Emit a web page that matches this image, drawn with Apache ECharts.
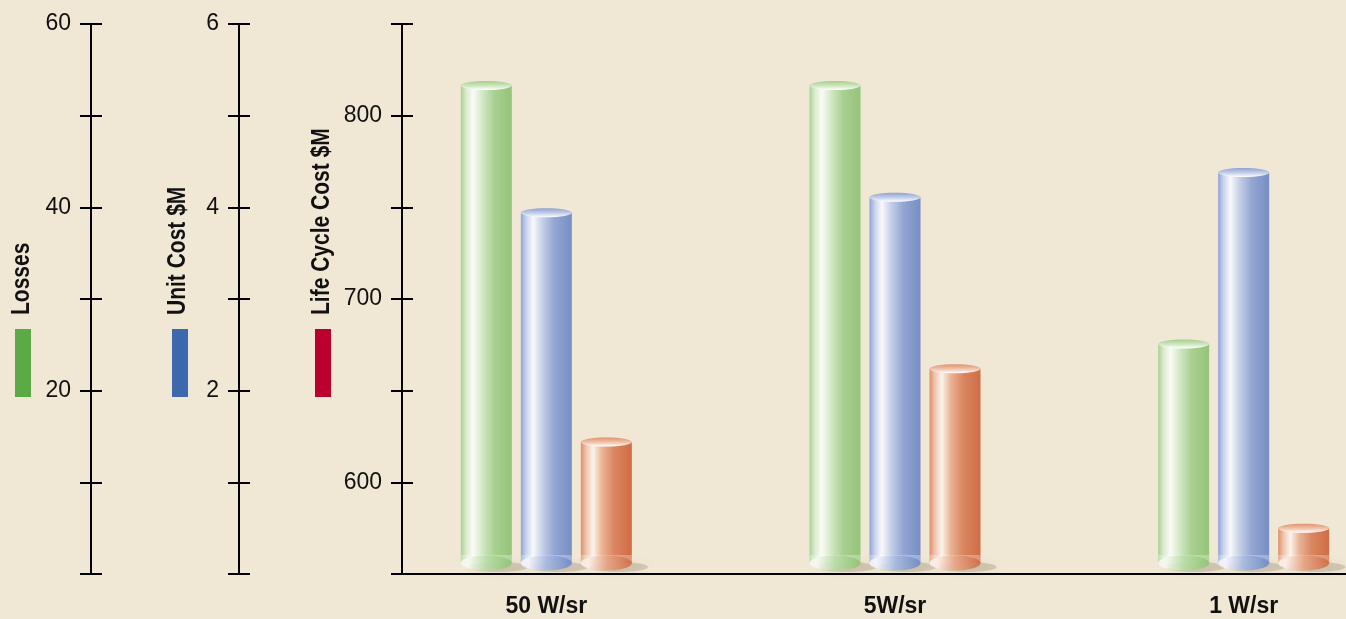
<!DOCTYPE html>
<html>
<head>
<meta charset="utf-8">
<script src="https://cdn.jsdelivr.net/npm/echarts@6/dist/echarts.min.js"></script>
<style>
  html, body { margin: 0; padding: 0; background: #f0e7d4; }
  #chart { width: 1346px; height: 619px; }
</style>
</head>
<body>
<div id="chart"></div>
<script>
// Sources compared
const categories = ['50 W/sr', '5W/sr', '1 W/sr'];

// Values per source, each on its own scale
const losses = [53.3, 53.3, 25.1];
const unitCost = [3.94, 4.11, 4.38];
const lifeCycleCost = [622, 662, 575];

// Which tick values get a printed label
const lossesLabels = [20, 40, 60];
const unitCostLabels = [2, 4, 6];
const lifeCycleLabels = [600, 700, 800];

const FONT = "'Liberation Sans', Arial, sans-serif";

// Cylinder shading per series
const palettes = [
  { // green – Losses
    body: ['#a9d193', '#d8ebcd', '#fbfbf5', '#d3e8c6', '#a8d08f', '#95c47a'],
    cap: ['#a3cf8a', '#d4e9c8', '#ffffff'],
    base: ['#f4f9ef', '#b8dca5', '#8fc375'],
    key: '#5aaa46'
  },
  { // blue – Unit Cost
    body: ['#8ea4d6', '#c6d2ec', '#f9f9fb', '#c5cfe7', '#93a6d2', '#768ec4'],
    cap: ['#8ea3d2', '#cbd5ec', '#ffffff'],
    base: ['#f2f4fb', '#a6b8e0', '#6f89c4'],
    key: '#3e68ad'
  },
  { // orange – Life Cycle Cost
    body: ['#dd8f6b', '#efc3ad', '#fbf3ec', '#eab293', '#da8660', '#cf6c45'],
    cap: ['#e0926e', '#f2c9b4', '#ffffff'],
    base: ['#fbeee6', '#e7a483', '#cf6a43'],
    key: '#bb002f'
  }
];

const G = echarts.graphic;

function cylinder(pal, slot) {
  return function (params, api) {
    const cat = api.value(0);
    const top = api.coord([cat, api.value(1)]);
    const cs = params.coordSys;
    const baseY = cs.y + cs.height;
    const w = 51, rx = w / 2;
    const cx = top[0] + (slot - 1) * 60;
    const floorY = baseY - 11;
    const ty = top[1];
    const stops = (arr, pos) => arr.map((c, i) => ({ offset: pos[i], color: c }));
    return {
      type: 'group',
      children: [
        { // soft floor shadow
          type: 'ellipse',
          shape: { cx: cx + 12, cy: baseY - 7, rx: rx + 4, ry: 5 },
          style: { fill: 'rgba(110,90,70,0.22)', shadowBlur: 8, shadowColor: 'rgba(110,90,70,0.35)' }
        },
        { // body
          type: 'rect',
          shape: { x: cx - rx, y: ty, width: w, height: floorY - ty },
          style: { fill: new G.LinearGradient(0, 0, 1, 0, stops(pal.body, [0, 0.1, 0.24, 0.42, 0.66, 1])) }
        },
        { // glassy foot band
          type: 'rect',
          shape: { x: cx - rx, y: floorY - 8, width: w, height: 8 },
          style: { fill: 'rgba(255,255,255,0.28)' }
        },
        { // base ellipse
          type: 'ellipse',
          shape: { cx: cx, cy: floorY, rx: rx, ry: 7.5 },
          style: {
            fill: new G.LinearGradient(0, 0, 1, 0, stops(pal.base, [0.15, 0.5, 1])),
            opacity: 0.9
          }
        },
        { // top cap
          type: 'ellipse',
          shape: { cx: cx, cy: ty, rx: rx, ry: 4.5 },
          style: { fill: new G.LinearGradient(0, 0, 0, 1, stops(pal.cap, [0, 0.6, 1])) }
        }
      ]
    };
  };
}

const gridLeft = 372;

function scaleAxis(min, max, step, x, labels, inside) {
  return {
    type: 'value',
    position: 'left',
    gridIndex: 0,
    min: min, max: max, interval: step,
    offset: gridLeft - x,
    axisLine: { show: true, lineStyle: { color: '#000', width: 2 } },
    axisTick: { show: true, inside: inside, length: 11, lineStyle: { color: '#000', width: 2 } },
    axisLabel: {
      show: !inside,
      margin: 20,
      color: '#111',
      fontFamily: FONT,
      fontSize: 23,
      formatter: v => (labels.indexOf(v) >= 0 ? String(v) : '')
    },
    splitLine: { show: false }
  };
}

const chart = echarts.init(document.getElementById('chart'), null, { renderer: 'canvas' });

const titleStyle = { fontFamily: FONT, fontSize: 25, fontWeight: 'bold', fill: '#111' };

function axisTitle(text, x) {
  return {
    type: 'text', x: x, y: 315, rotation: Math.PI / 2, scaleX: 0.84,
    style: Object.assign({ text: text, align: 'left', verticalAlign: 'bottom' }, titleStyle)
  };
}

chart.setOption({
  backgroundColor: '#f0e7d4',
  animation: false,
  grid: [
    { left: gridLeft, right: -72, top: 24, bottom: 45, outerBoundsMode: 'none', containLabel: false },
    { left: 402, right: 0, top: 24, bottom: 45, outerBoundsMode: 'none', containLabel: false }
  ],
  xAxis: [
    {
      type: 'category',
      gridIndex: 0,
      data: categories,
      axisLine: { show: false },
      axisTick: { show: false },
      axisLabel: { margin: 21, color: '#111', fontFamily: FONT, fontSize: 23, fontWeight: 'bold' }
    },
    {
      type: 'value',
      gridIndex: 1,
      min: 0, max: 1,
      axisLine: { show: true, lineStyle: { color: '#000', width: 2 } },
      axisTick: { show: false },
      axisLabel: { show: false },
      splitLine: { show: false }
    }
  ],
  yAxis: [
    scaleAxis(0, 60, 10, 91, lossesLabels, false),
    scaleAxis(0, 6, 1, 239, unitCostLabels, false),
    scaleAxis(550, 850, 50, 402, lifeCycleLabels, false),
    scaleAxis(0, 60, 10, 91, lossesLabels, true),
    scaleAxis(0, 6, 1, 239, unitCostLabels, true),
    scaleAxis(550, 850, 50, 402, lifeCycleLabels, true),
    { type: 'value', gridIndex: 1, show: false }
  ],
  series: [
    { name: 'Losses', type: 'custom', xAxisIndex: 0, yAxisIndex: 0, clip: false,
      data: losses.map((v, i) => [i, v]), renderItem: cylinder(palettes[0], 0) },
    { name: 'Unit Cost $M', type: 'custom', xAxisIndex: 0, yAxisIndex: 1, clip: false,
      data: unitCost.map((v, i) => [i, v]), renderItem: cylinder(palettes[1], 1) },
    { name: 'Life Cycle Cost $M', type: 'custom', xAxisIndex: 0, yAxisIndex: 2, clip: false,
      data: lifeCycleCost.map((v, i) => [i, v]), renderItem: cylinder(palettes[2], 2) }
  ],
  graphic: [
    axisTitle('Losses', 35),
    axisTitle('Unit Cost $M', 191),
    axisTitle('Life Cycle Cost $M', 335),
    { type: 'rect', shape: { x: 15, y: 329, width: 16, height: 68 }, style: { fill: palettes[0].key } },
    { type: 'rect', shape: { x: 172, y: 329, width: 16, height: 68 }, style: { fill: palettes[1].key } },
    { type: 'rect', shape: { x: 315, y: 329, width: 16, height: 68 }, style: { fill: palettes[2].key } }
  ]
});
</script>
</body>
</html>
